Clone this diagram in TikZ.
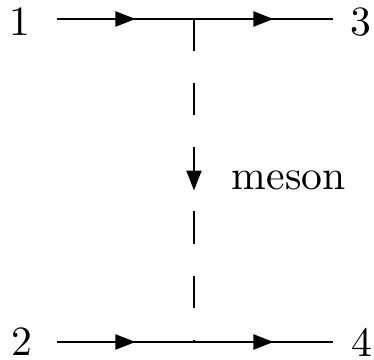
\documentclass[tikz,border=0pt]{standalone}
\usetikzlibrary{arrows.meta,decorations.markings}

\begin{document}
\begin{tikzpicture}[
  x=0.24pt, y=-0.24pt,
  lbl/.style={inner sep=0pt, font=\normalsize},
  fermion/.style={line width=0.5pt, postaction={decorate},
    decoration={markings, mark=at position 0.5 with {\arrow[xshift=2.4pt]{Triangle[length=4.8pt, width=3.6pt]}}}},
  exchange/.style={line width=0.5pt, dash pattern=on 7.7pt off 7.7pt, postaction={decorate},
    decoration={markings, mark=at position 0.5 with {\arrow[xshift=2.4pt, solid]{Triangle[length=4.8pt, width=3.6pt]}}}}
]
\useasboundingbox (0,0) rectangle (374,360);
% vertices and external ends
\coordinate (va) at (194,19);
\coordinate (vb) at (194,342);
\coordinate (e1) at (57,19);
\coordinate (e3) at (333,19);
\coordinate (e2) at (57,342);
\coordinate (e4) at (333,342);
% particle labels
\node[lbl] (n1) at (20,22) {1};
\node[lbl] (n3) at (361,22) {3};
\node[lbl] (n2) at (22,342) {2};
\node[lbl] (n4) at (362,342) {4};
\node[lbl, anchor=west] (mes) at (231,180) {meson};
% lines
\draw[fermion] (e1) -- (va);
\draw[fermion] (va) -- (e3);
\draw[fermion] (e2) -- (vb);
\draw[fermion] (vb) -- (e4);
\draw[exchange] (va) -- (vb);
\end{tikzpicture}
\end{document}
